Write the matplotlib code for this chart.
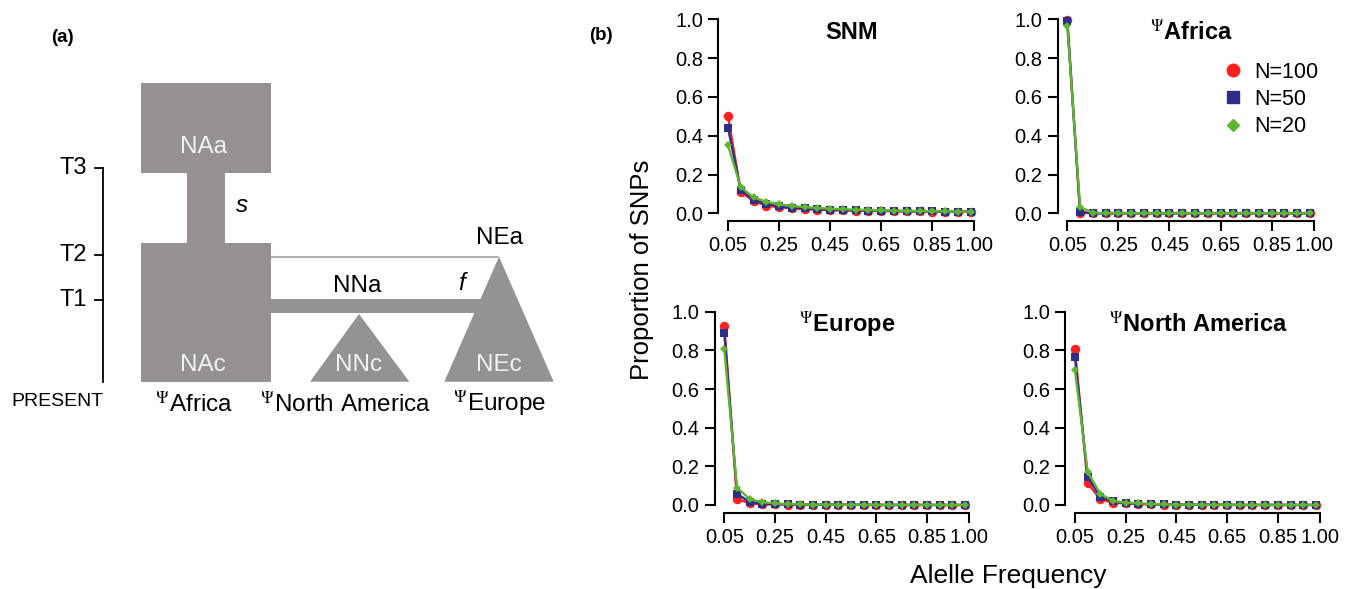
import matplotlib
matplotlib.use("Agg")
import matplotlib.pyplot as plt
from matplotlib.patches import Polygon, Rectangle
from matplotlib.lines import Line2D

plt.rcParams['font.family'] = ['Liberation Sans', 'DejaVu Sans']
plt.rcParams['mathtext.fontset'] = 'stix'

# allele frequency bins
freq = [0.05, 0.10, 0.15, 0.20, 0.25, 0.30, 0.35, 0.40, 0.45, 0.50,
        0.55, 0.60, 0.65, 0.70, 0.75, 0.80, 0.85, 0.90, 0.95, 1.00]

sample_sizes = ["N=100", "N=50", "N=20"]
panel_titles = ["SNM", r"$^{\Psi}$Africa", r"$^{\Psi}$Europe", r"$^{\Psi}$North America"]

# proportion of SNPs per panel, one list per sample size (N=100, N=50, N=20)
snm_100 = [0.50, 0.112, 0.062, 0.040, 0.031, 0.026, 0.022, 0.019, 0.017, 0.015,
           0.014, 0.013, 0.012, 0.011, 0.010, 0.010, 0.009, 0.009, 0.008, 0.008]
snm_50 = [0.44, 0.120, 0.070, 0.048, 0.036, 0.030, 0.025, 0.021, 0.019, 0.017,
          0.015, 0.014, 0.013, 0.012, 0.011, 0.010, 0.010, 0.009, 0.009, 0.008]
snm_20 = [0.35, 0.135, 0.082, 0.060, 0.046, 0.038, 0.032, 0.027, 0.024, 0.021,
          0.019, 0.017, 0.015, 0.014, 0.013, 0.012, 0.011, 0.010, 0.009, 0.008]

afr_100 = [0.995, 0.004, 0.001, 0.0, 0.0, 0.0, 0.0, 0.0, 0.0, 0.0,
           0.0, 0.0, 0.0, 0.0, 0.0, 0.0, 0.0, 0.0, 0.0, 0.0]
afr_50 = [0.99, 0.006, 0.001, 0.0, 0.0, 0.0, 0.0, 0.0, 0.0, 0.0,
          0.0, 0.0, 0.0, 0.0, 0.0, 0.0, 0.0, 0.0, 0.0, 0.0]
afr_20 = [0.965, 0.032, 0.003, 0.0, 0.0, 0.0, 0.0, 0.0, 0.0, 0.0,
          0.0, 0.0, 0.0, 0.0, 0.0, 0.0, 0.0, 0.0, 0.0, 0.0]

eur_100 = [0.926, 0.030, 0.010, 0.003, 0.003, 0.002, 0.001, 0.001, 0.001, 0.001,
           0.001, 0.0, 0.0, 0.0, 0.0, 0.0, 0.0, 0.0, 0.0, 0.0]
eur_50 = [0.891, 0.058, 0.015, 0.006, 0.005, 0.003, 0.002, 0.001, 0.001, 0.001,
          0.001, 0.001, 0.0, 0.0, 0.0, 0.0, 0.0, 0.0, 0.0, 0.0]
eur_20 = [0.805, 0.090, 0.030, 0.014, 0.008, 0.005, 0.003, 0.002, 0.002, 0.001,
          0.001, 0.001, 0.001, 0.0, 0.0, 0.0, 0.0, 0.0, 0.0, 0.0]

nam_100 = [0.805, 0.112, 0.030, 0.012, 0.008, 0.005, 0.003, 0.002, 0.002, 0.001,
           0.001, 0.001, 0.0, 0.0, 0.0, 0.0, 0.0, 0.0, 0.0, 0.0]
nam_50 = [0.764, 0.146, 0.040, 0.018, 0.010, 0.006, 0.004, 0.003, 0.002, 0.001,
          0.001, 0.001, 0.001, 0.0, 0.0, 0.0, 0.0, 0.0, 0.0, 0.0]
nam_20 = [0.698, 0.172, 0.057, 0.022, 0.012, 0.008, 0.005, 0.003, 0.002, 0.002,
          0.001, 0.001, 0.001, 0.001, 0.0, 0.0, 0.0, 0.0, 0.0, 0.0]

panel_data = [[snm_100, snm_50, snm_20], [afr_100, afr_50, afr_20],
              [eur_100, eur_50, eur_20], [nam_100, nam_50, nam_20]]

colors = ["#ff1f1f", "#2e2e8a", "#5fb52f"]
markers = ["o", "s", "D"]
msizes = [6.8, 5.5, 3.8]

W, H = 1352, 589
fig = plt.figure(figsize=(W / 100, H / 100), dpi=100)


def px_axes(left, top, right, bottom):
    return fig.add_axes([left / W, 1 - bottom / H, (right - left) / W, (bottom - top) / H])


# ---------------- panel (a): demographic model schematic ----------------
axd = fig.add_axes([0, 0, 1, 1])
axd.set_xlim(0, W)
axd.set_ylim(H, 0)
axd.axis("off")

time_labels = ["T3", "T2", "T1"]
time_y = [168.3, 255, 300]
present_y = 381.7
gray_a = "#969291"
gray_b = "#939393"

africa = [(141, 82.7), (270.7, 82.7), (270.7, 172.7), (225, 172.7), (225, 243.3),
          (270.7, 243.3), (270.7, present_y), (140.5, present_y), (140.5, 243.3),
          (187.3, 243.3), (187.3, 172.7), (141, 172.7)]
axd.add_patch(Polygon(africa, closed=True, facecolor=gray_a, edgecolor="none"))
axd.add_patch(Rectangle((270.7, 299.3), 215, 14, facecolor=gray_b, edgecolor="none"))
axd.add_patch(Polygon([(310, present_y), (359, 314), (409.3, present_y)],
                      closed=True, facecolor=gray_b, edgecolor="none"))
axd.add_patch(Polygon([(444.3, present_y), (499, 256.7), (553.7, present_y)],
                      closed=True, facecolor=gray_b, edgecolor="none"))
axd.plot([270.7, 499], [256.7, 256.7], color="#b2b2b2", lw=1.5, solid_capstyle="butt")

# time axis
axd.plot([102.7, 102.7], [time_y[0], present_y], color="black", lw=1.3)
for lab, ty in zip(time_labels, time_y):
    axd.plot([95, 102.7], [ty, ty], color="black", lw=1.3)
    axd.text(87, ty, lab, ha="right", va="center", fontsize=17)
axd.text(57, 402, "PRESENT", ha="center", va="center", fontsize=14)

for lab, x in zip([r"$^{\Psi}$Africa", r"$^{\Psi}$North America", r"$^{\Psi}$Europe"],
                  [194, 346, 500]):
    axd.text(x, 404, lab, ha="center", va="center", fontsize=17.5)

for lab, x, y in [("NAa", 204, 147), ("NAc", 203, 365), ("NNc", 359, 365), ("NEc", 499, 365)]:
    axd.text(x, y, lab, ha="center", va="center", fontsize=17.5, color="#f2f2f2")
axd.text(357, 286, "NNa", ha="center", va="center", fontsize=17.5)
axd.text(499, 238, "NEa", ha="center", va="center", fontsize=17.5)
axd.text(241.7, 205, "s", ha="center", va="center", fontsize=17.5, style="italic")
axd.text(461.7, 283, "f", ha="center", va="center", fontsize=17.5, style="italic")

axd.text(62, 37, "(a)", ha="center", va="center", fontsize=13.5, fontweight="bold")
axd.text(601, 36, "(b)", ha="center", va="center", fontsize=13.5, fontweight="bold")

# ---------------- panel (b): allele frequency spectra ----------------
boxes = [(718.3, 11.5, 980.3, 221.1), (1057.6, 11.5, 1319.6, 221.1),
         (714.7, 304, 974.7, 512.7), (1065.3, 304, 1325.5, 512.7)]
xtick_pos = [0.05, 0.25, 0.45, 0.65, 0.85, 1.015]
xtick_labels = ["0.05", "0.25", "0.45", "0.65", "0.85", "1.00"]
yticks = [0.0, 0.2, 0.4, 0.6, 0.8, 1.0]

for box, title, series in zip(boxes, panel_titles, panel_data):
    ax = px_axes(*box)
    for vals, c, m, ms in zip(series, colors, markers, msizes):
        ax.plot(freq, vals, color=c, marker=m, markersize=ms, lw=1.7,
                markeredgewidth=0, clip_on=False)
    ax.set_xlim(0.012, 1.038)
    ax.set_ylim(-0.04, 1.04)
    for s in ["top", "right"]:
        ax.spines[s].set_visible(False)
    ax.spines["left"].set_bounds(0, 1)
    ax.spines["bottom"].set_bounds(0.05, xtick_pos[-1])
    for s in ["left", "bottom"]:
        ax.spines[s].set_linewidth(1.5)
    ax.set_xticks(xtick_pos)
    ax.set_xticklabels(xtick_labels)
    ax.set_yticks(yticks)
    ax.set_yticklabels([f"{t:.1f}" for t in yticks])
    ax.tick_params(length=7, width=1.5, labelsize=14.5, pad=4)
    ax.patch.set_alpha(0)
    ax.text(0.51, 0.9, title, transform=ax.transAxes, ha="center", va="center",
            fontsize=17, fontweight="bold")

handles = [Line2D([], [], color=c, marker=m, linestyle="none", markersize=ms)
           for c, m, ms in zip(colors, markers, [9, 8, 6.5])]
fig.legend(handles, sample_sizes, loc="upper left",
           bbox_to_anchor=(1222.3 / W, 1 - 62 / H), frameon=False, fontsize=15.5,
           handlelength=1.0, handletextpad=0.48, labelspacing=0.28,
           borderpad=0, borderaxespad=0)

fig.text(642 / W, 1 - 270 / H, "Proportion of SNPs", rotation=90,
         ha="center", va="center", fontsize=18.5)
fig.text(1008 / W, 1 - 576 / H, "Alelle Frequency", ha="center", va="center", fontsize=19)

fig.savefig("out.png", dpi=100)
